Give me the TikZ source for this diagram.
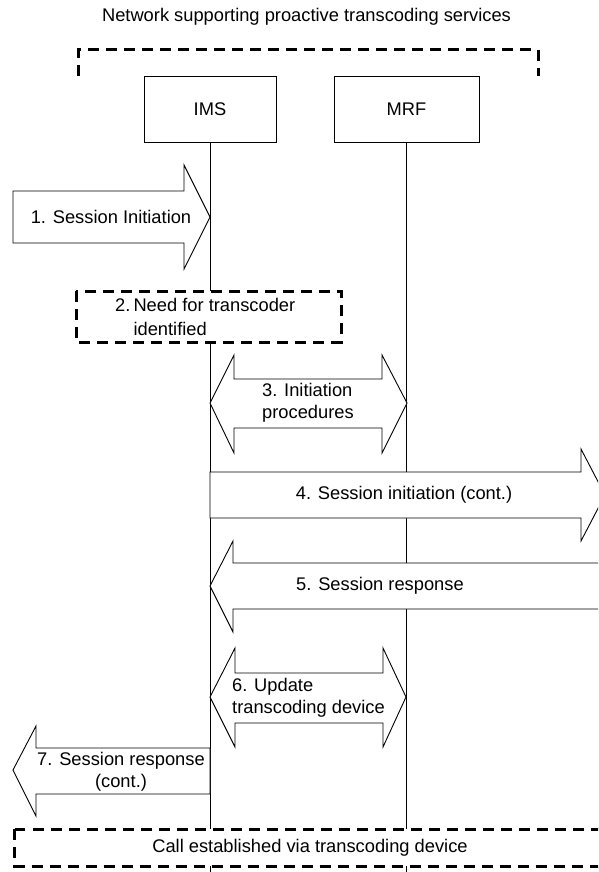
\documentclass[tikz,border=0pt]{standalone}
\usepackage{fontspec}
\setmainfont{Liberation Sans}
\begin{document}
\begin{tikzpicture}[x=1pt,y=-1pt,
  thin line/.style={line width=0.9pt},
  dashbox/.style={line width=3pt, dash pattern=on 11pt off 7pt, fill=white},
  entity/.style={draw, thin line, fill=white, minimum width=132pt, minimum height=66pt, inner sep=0pt},
  blockarrow/.style={draw, thin line, fill=white, line join=miter},
  lbl/.style={inner sep=0pt, font=\fontsize{18.3}{22}\selectfont},
  every node/.style={font=\fontsize{18.3}{22}\selectfont}]
\useasboundingbox (0,0) rectangle (598,872);
\clip (0,0) rectangle (598,872);

% title and network bracket
\node[lbl] (title) at (306.5,17) {Network supporting proactive transcoding services};
\draw[dashbox, fill=none] (78,76) -- (78,50) -- (538,50) -- (538,76);

% entities
\node[entity] (ims) at (210,109) {IMS};
\node[entity, minimum width=145pt] (mrf) at (406.5,109) {MRF};
\coordinate (imsend) at (ims.south |- 0,880);
\coordinate (mrfend) at (mrf.south |- 0,880);
\draw[thin line] (ims.south) -- (imsend);
\draw[thin line] (mrf.south) -- (mrfend);

% 1. Session initiation
\draw[blockarrow] (13,191) -- (184,191) -- (184,165) -- (210,217) -- (184,269) -- (184,243) -- (13,243) -- cycle;
\node[lbl] (t1) at (111,217) {1. Session Initiation};

% 2. Need for transcoder
\draw[dashbox] (76,291) rectangle (341,342);
\node[lbl, align=left, anchor=west] (t2) at (115,316.5) {2.\,Need for transcoder\\[2pt]\phantom{2.\,}identified};

% 3. Initiation procedures
\draw[blockarrow] (210,403) -- (234,355) -- (234,379) -- (382,379) -- (382,355) -- (407,403) -- (382,453) -- (382,428) -- (234,428) -- (234,453) -- cycle;
\node[lbl, align=left, anchor=west] (t3) at (262,403) {3. Initiation\\procedures};

% 4. Session initiation (cont.)
\draw[blockarrow] (210,472) -- (581,472) -- (581,449) -- (605,495) -- (581,541) -- (581,518) -- (210,518) -- cycle;
\node[lbl] (t4) at (404,495) {4. Session initiation (cont.)};

% 5. Session response
\draw[blockarrow] (210,586) -- (233,541) -- (233,563) -- (640,563) -- (640,609) -- (233,609) -- (233,632) -- cycle;
\node[lbl] (t5) at (380,586) {5. Session response};

% 6. Update transcoding device
\draw[blockarrow] (210,697) -- (235,648) -- (235,673) -- (383,673) -- (383,648) -- (406,697) -- (383,747) -- (383,723) -- (235,723) -- (235,747) -- cycle;
\node[lbl, align=left, anchor=west] (t6) at (232,698) {6. Update\\transcoding device};

% 7. Session response (cont.)
\draw[blockarrow] (13,770) -- (36,726) -- (36,748) -- (210,748) -- (210,794) -- (36,794) -- (36,816) -- cycle;
\node[lbl, align=center] (t7) at (121,772) {7. Session response\\(cont.)};

% call established
\draw[dashbox] (14.5,829) rectangle (640,866);
\node[lbl] (t8) at (310,848) {Call established via transcoding device};
\end{tikzpicture}
\end{document}
